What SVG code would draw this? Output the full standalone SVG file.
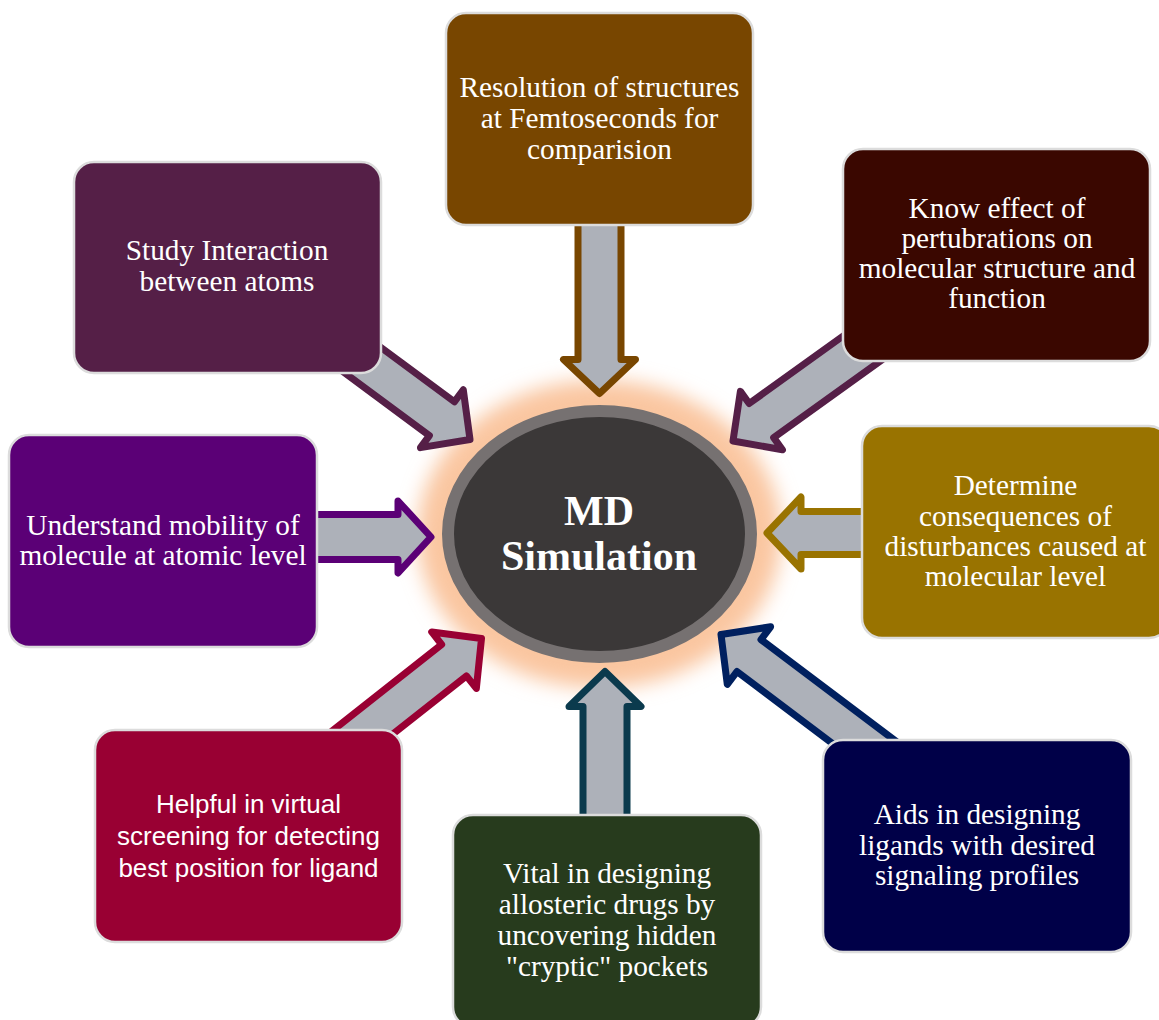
<svg xmlns="http://www.w3.org/2000/svg" width="1159" height="1020" viewBox="0 0 1159 1020">
<defs>
<filter id="glow" x="-40%" y="-40%" width="180%" height="180%">
<feGaussianBlur stdDeviation="10"/>
</filter>
</defs>
<style>
.box{stroke:#dcdcdc;stroke-width:2.5}
.t{font-family:"Liberation Serif","Times New Roman",serif;font-size:29.3px;fill:#ffffff;text-anchor:middle}
.s{font-family:"Liberation Sans",Arial,sans-serif;font-size:26px;fill:#ffffff;text-anchor:middle}
.a{fill:#adb1b9;stroke-width:7;stroke-linejoin:round}
</style>
<rect width="1159" height="1020" fill="#ffffff"/>
<ellipse cx="599.5" cy="534" rx="182" ry="154" fill="#fac6a0" filter="url(#glow)"/>
<g id="connectors">
<path class="a" stroke="#784600" transform="translate(599.5,393.5) rotate(90)" d="M -175,-21.5 H -34 V -36 L 0,0 L -34,36 V 21.5 H -175 Z"/>
<path class="a" stroke="#551f47" transform="translate(470,439.5) rotate(36.5)" d="M -165,-21 H -35 V -36 L 0,0 L -35,36 V 21 H -165 Z"/>
<path class="a" stroke="#551f47" transform="translate(733,441) rotate(144.3)" d="M -170,-21 H -35 V -36 L 0,0 L -35,36 V 21 H -170 Z"/>
<path class="a" stroke="#5b0076" transform="translate(431,537) rotate(0)" d="M -125,-22.5 H -33 V -36 L 0,0 L -33,36 V 22.5 H -125 Z"/>
<path class="a" stroke="#997300" transform="translate(767,533) rotate(180)" d="M -110,-21.5 H -34 V -36 L 0,0 L -34,36 V 21.5 H -110 Z"/>
<path class="a" stroke="#990033" transform="translate(481.5,638.5) rotate(-38.3)" d="M -190,-20 H -35 V -36 L 0,0 L -35,36 V 20 H -190 Z"/>
<path class="a" stroke="#0b3a4d" transform="translate(605,671.5) rotate(-90)" d="M -155,-22 H -35 V -36 L 0,0 L -35,36 V 22 H -155 Z"/>
<path class="a" stroke="#00205f" transform="translate(721,634.5) rotate(-143)" d="M -210,-20 H -35 V -36 L 0,0 L -35,36 V 20 H -210 Z"/>
</g>
<g id="n1">
<rect class="box" x="446" y="13" width="307" height="212" rx="20" fill="#784600"/>
<text class="t" x="599.5" y="97">Resolution of structures</text>
<text class="t" x="599.5" y="128">at Femtoseconds for</text>
<text class="t" x="599.5" y="158.5">comparision</text>
</g>
<g id="n2">
<rect class="box" x="74" y="162" width="307" height="211" rx="20" fill="#551f47"/>
<text class="t" x="227" y="260">Study Interaction</text>
<text class="t" x="227" y="291">between atoms</text>
</g>
<g id="n3">
<rect class="box" x="843" y="149" width="307" height="212" rx="20" fill="#3a0700"/>
<text class="t" x="997" y="218">Know effect of</text>
<text class="t" x="997" y="248">pertubrations on</text>
<text class="t" x="997" y="278">molecular structure and</text>
<text class="t" x="997" y="308">function</text>
</g>
<g id="n4">
<rect class="box" x="9" y="435" width="308" height="212" rx="20" fill="#5b0076"/>
<text class="t" x="163" y="535">Understand mobility of</text>
<text class="t" x="163" y="565">molecule at atomic level</text>
</g>
<g id="n5">
<rect class="box" x="862" y="426" width="307" height="212" rx="20" fill="#997300"/>
<text class="t" x="1015.5" y="495">Determine</text>
<text class="t" x="1015.5" y="526">consequences of</text>
<text class="t" x="1015.5" y="556">disturbances caused at</text>
<text class="t" x="1015.5" y="586">molecular level</text>
</g>
<g id="n6">
<rect class="box" x="95" y="730" width="307" height="212" rx="20" fill="#990033"/>
<text class="s" x="248.5" y="813">Helpful in virtual</text>
<text class="s" x="248.5" y="845">screening for detecting</text>
<text class="s" x="248.5" y="877">best position for ligand</text>
</g>
<g id="n7">
<rect class="box" x="453" y="815" width="308" height="212" rx="20" fill="#273b1d"/>
<text class="t" x="607" y="883">Vital in designing</text>
<text class="t" x="607" y="914">allosteric drugs by</text>
<text class="t" x="607" y="945">uncovering hidden</text>
<text class="t" x="607" y="976">"cryptic" pockets</text>
</g>
<g id="n8">
<rect class="box" x="823" y="740" width="308" height="212" rx="20" fill="#000048"/>
<text class="t" x="977" y="824">Aids in designing</text>
<text class="t" x="977" y="855">ligands with desired</text>
<text class="t" x="977" y="885">signaling profiles</text>
</g>
<g id="center">
<ellipse cx="599.5" cy="534" rx="151.5" ry="123" fill="#3b3838" stroke="#767171" stroke-width="12"/>
<text x="599" y="525" font-family="Liberation Serif,'Times New Roman',serif" font-size="42" font-weight="bold" fill="#ffffff" text-anchor="middle">MD</text>
<text x="599" y="570" font-family="Liberation Serif,'Times New Roman',serif" font-size="42" font-weight="bold" fill="#ffffff" text-anchor="middle">Simulation</text>
</g>
</svg>
